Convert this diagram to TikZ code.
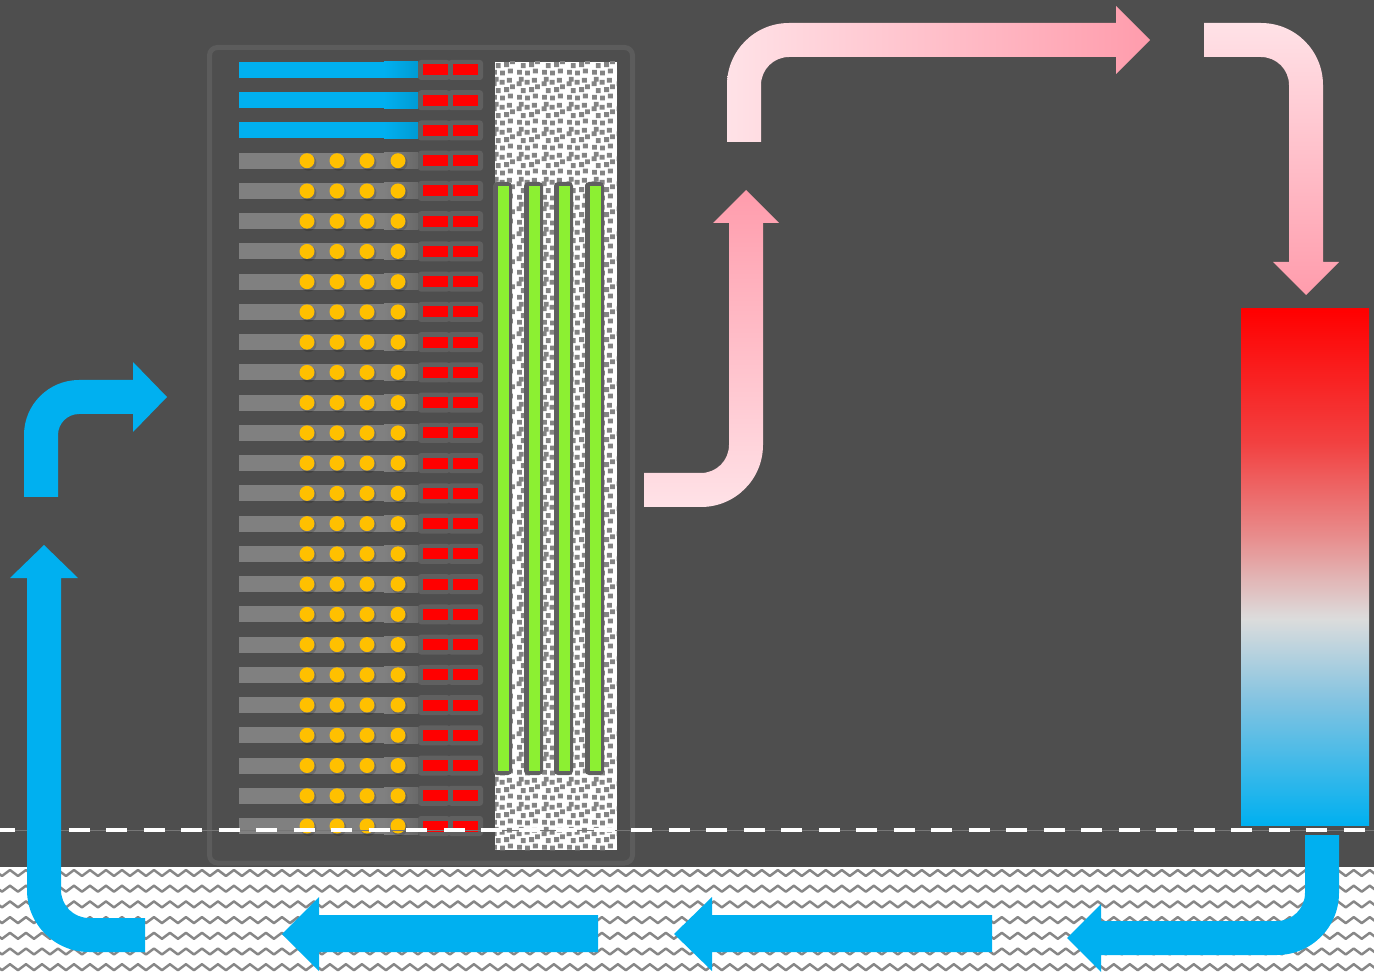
\documentclass[tikz,border=0pt]{standalone}
\usepackage{tikz}
\usetikzlibrary{patterns}
\usetikzlibrary{decorations.pathmorphing}

\definecolor{bgcol}{RGB}{78,78,78}
\definecolor{framecol}{RGB}{92,92,92}
\definecolor{slotcol}{RGB}{96,96,96}
\definecolor{coolblue}{RGB}{0,176,240}
\definecolor{barcol}{RGB}{128,128,128}
\definecolor{ledcol}{RGB}{255,192,0}
\definecolor{psucol}{RGB}{255,0,0}
\definecolor{boardcol}{RGB}{140,240,50}
\definecolor{hotlight}{RGB}{255,226,231}
\definecolor{hotdark}{RGB}{255,156,172}
\definecolor{speckcol}{RGB}{132,132,132}
\definecolor{wavecol}{RGB}{135,135,135}

\pgfdeclarepatternformonly{speckle}{\pgfpointorigin}{\pgfqpoint{14pt}{14pt}}{\pgfqpoint{14pt}{14pt}}{%
  \pgfpathrectangle{\pgfqpoint{0.6pt}{0.8pt}}{\pgfqpoint{2.8pt}{2.8pt}}%
  \pgfpathrectangle{\pgfqpoint{5.2pt}{0.3pt}}{\pgfqpoint{2.8pt}{2.8pt}}%
  \pgfpathrectangle{\pgfqpoint{9.8pt}{1.5pt}}{\pgfqpoint{2.8pt}{2.8pt}}%
  \pgfpathrectangle{\pgfqpoint{2.8pt}{4.6pt}}{\pgfqpoint{2.8pt}{2.8pt}}%
  \pgfpathrectangle{\pgfqpoint{7.6pt}{5.2pt}}{\pgfqpoint{2.8pt}{2.8pt}}%
  \pgfpathrectangle{\pgfqpoint{11.0pt}{6.8pt}}{\pgfqpoint{2.8pt}{2.8pt}}%
  \pgfpathrectangle{\pgfqpoint{0.4pt}{8.6pt}}{\pgfqpoint{2.8pt}{2.8pt}}%
  \pgfpathrectangle{\pgfqpoint{5.0pt}{9.4pt}}{\pgfqpoint{2.8pt}{2.8pt}}%
  \pgfpathrectangle{\pgfqpoint{9.2pt}{10.6pt}}{\pgfqpoint{2.8pt}{2.8pt}}%
  \pgfpathrectangle{\pgfqpoint{1.6pt}{11.2pt}}{\pgfqpoint{2.8pt}{2.8pt}}%
  \pgfusepath{fill}%
}

\pgfdeclareverticalshading{coolershade}{100bp}{%
  color(0bp)=(coolblue); color(25bp)=(coolblue);
  color(37bp)=(rgb,255:red,130;green,195;blue,225);
  color(45bp)=(rgb,255:red,220;green,220;blue,220);
  color(53bp)=(rgb,255:red,232;green,140;blue,140);
  color(62bp)=(rgb,255:red,242;green,65;blue,65);
  color(75bp)=(psucol); color(100bp)=(psucol)}

\tikzset{
  coolarrow/.style={fill=coolblue},
  server/.style={fill=barcol},
  psubox/.style={fill=slotcol, rounded corners=0.06cm},
  board/.style={fill=slotcol, rounded corners=0.08cm},
  wave/.style={draw=wavecol, line width=1.4pt, line join=round, decorate,
    decoration={zigzag, segment length=0.32cm, amplitude=0.06cm}},
}

\begin{document}
\begin{tikzpicture}[x=0.02cm, y=-0.02cm]
  \useasboundingbox (0,0) rectangle (1374,973);
  \fill[bgcol] (0,0) rectangle (1374,973);

  % raised floor
  \fill[white] (0,867) rectangle (1374,973);
  \begin{scope}
    \clip (0,867) rectangle (1374,973);
    \foreach \r in {0,...,7}
      \draw[wave] (-10,{873+15.7*\r}) -- (1390,{873+15.7*\r});
  \end{scope}

  % rack
  \draw[framecol, line width=0.1cm, rounded corners=0.16cm] (209.5,47.5) rectangle (632.5,863);

  \foreach \i in {0,1,2}{
    \pgfmathsetmacro\ry{70+30.24*\i}
    \fill[coolblue] (239,{\ry-8}) rectangle (418,{\ry+8});
    \shade[left color=coolblue, right color=coolblue!88!black] (384,{\ry-8}) rectangle (418,{\ry+8});
  }
  \foreach \i in {3,...,25}{
    \pgfmathsetmacro\ry{70+30.24*\i}
    \fill[server] (239,{\ry-8}) rectangle (418,{\ry+8});
    \shade[left color=barcol, right color=barcol!82!black] (384,{\ry-8}) rectangle (418,{\ry+8});
    \foreach \dx in {307,337,367,398}{
      \fill[black, opacity=0.15] ({\dx+1.5},{\ry+2}) circle[radius=8];
      \fill[ledcol] (\dx,\ry) circle[radius=7.5];
    }
  }
  \foreach \i in {0,...,25}{
    \pgfmathsetmacro\ry{70+30.24*\i}
    \fill[psubox] (418,{\ry-10}) rectangle (450,{\ry+10});
    \fill[psucol] (423,{\ry-5.5}) rectangle (448,{\ry+5.5});
    \fill[psubox] (448,{\ry-10}) rectangle (483,{\ry+10});
    \fill[psucol] (453,{\ry-5.5}) rectangle (478,{\ry+5.5});
  }

  % cable column and boards
  \fill[white] (495,62) rectangle (617,850);
  \fill[pattern=speckle, pattern color=speckcol] (495,62) rectangle (617,850);
  \foreach \bx in {493,524,554,585}{
    \fill[board] (\bx,182) rectangle ({\bx+19},775);
    \fill[boardcol] ({\bx+5},186) rectangle ({\bx+16},771);
  }

  % floor level
  \draw[gray!80!bgcol, line width=0.02cm] (0,830) -- (1374,830);
  \draw[white, line width=0.09cm, dash pattern=on 0.42cm off 0.33cm] (-6,830) -- (1380,830);

  % cooling unit
  \shade[shading=coolershade] (1241,309) rectangle (1369,825);

  % hot air
  \shade[top color=hotdark, bottom color=hotlight]
    (644,473) -- (701,473) arc[start angle=90, end angle=0, radius=28]
    -- (729,223) -- (713,223) -- (746,190) -- (779,223) -- (763,223) -- (763,445)
    arc[start angle=0, end angle=90, radius=62] -- (644,507) -- cycle;
  \shade[left color=hotlight, right color=hotdark]
    (727,142) -- (727,85) arc[start angle=180, end angle=270, radius=62]
    -- (1116,23) -- (1116,6) -- (1150,40) -- (1116,74) -- (1116,57) -- (789,57)
    arc[start angle=270, end angle=180, radius=28] -- (761,142) -- cycle;
  \shade[top color=hotlight, bottom color=hotdark]
    (1204,23) -- (1261,23) arc[start angle=270, end angle=360, radius=62]
    -- (1323,262) -- (1339,262) -- (1306,295) -- (1273,262) -- (1289,262) -- (1289,85)
    arc[start angle=0, end angle=-90, radius=28] -- (1204,57) -- cycle;

  % cold air
  \fill[coolarrow]
    (1305,835) -- (1305,893) arc[start angle=0, end angle=90, radius=28]
    -- (1101,921) -- (1101,904) -- (1067,938) -- (1101,972) -- (1101,955) -- (1277,955)
    arc[start angle=90, end angle=0, radius=62] -- (1339,835) -- cycle;
  \fill[coolarrow] (992,915) -- (712,915) -- (712,897) -- (674,934) -- (712,971) -- (712,952) -- (992,952) -- cycle;
  \fill[coolarrow] (598,915) -- (319,915) -- (319,897) -- (282,934) -- (319,971) -- (319,952) -- (598,952) -- cycle;
  \fill[coolarrow]
    (145,918) -- (89,918) arc[start angle=90, end angle=180, radius=28]
    -- (61,578) -- (78,578) -- (44,545) -- (10,578) -- (27,578) -- (27,890)
    arc[start angle=180, end angle=90, radius=62] -- (145,952) -- cycle;
  \fill[coolarrow]
    (24,497) -- (24,435) arc[start angle=180, end angle=270, radius=55]
    -- (133,380) -- (133,362) -- (167,397) -- (133,432) -- (133,414) -- (79,414)
    arc[start angle=270, end angle=180, radius=21] -- (58,497) -- cycle;
\end{tikzpicture}
\end{document}
